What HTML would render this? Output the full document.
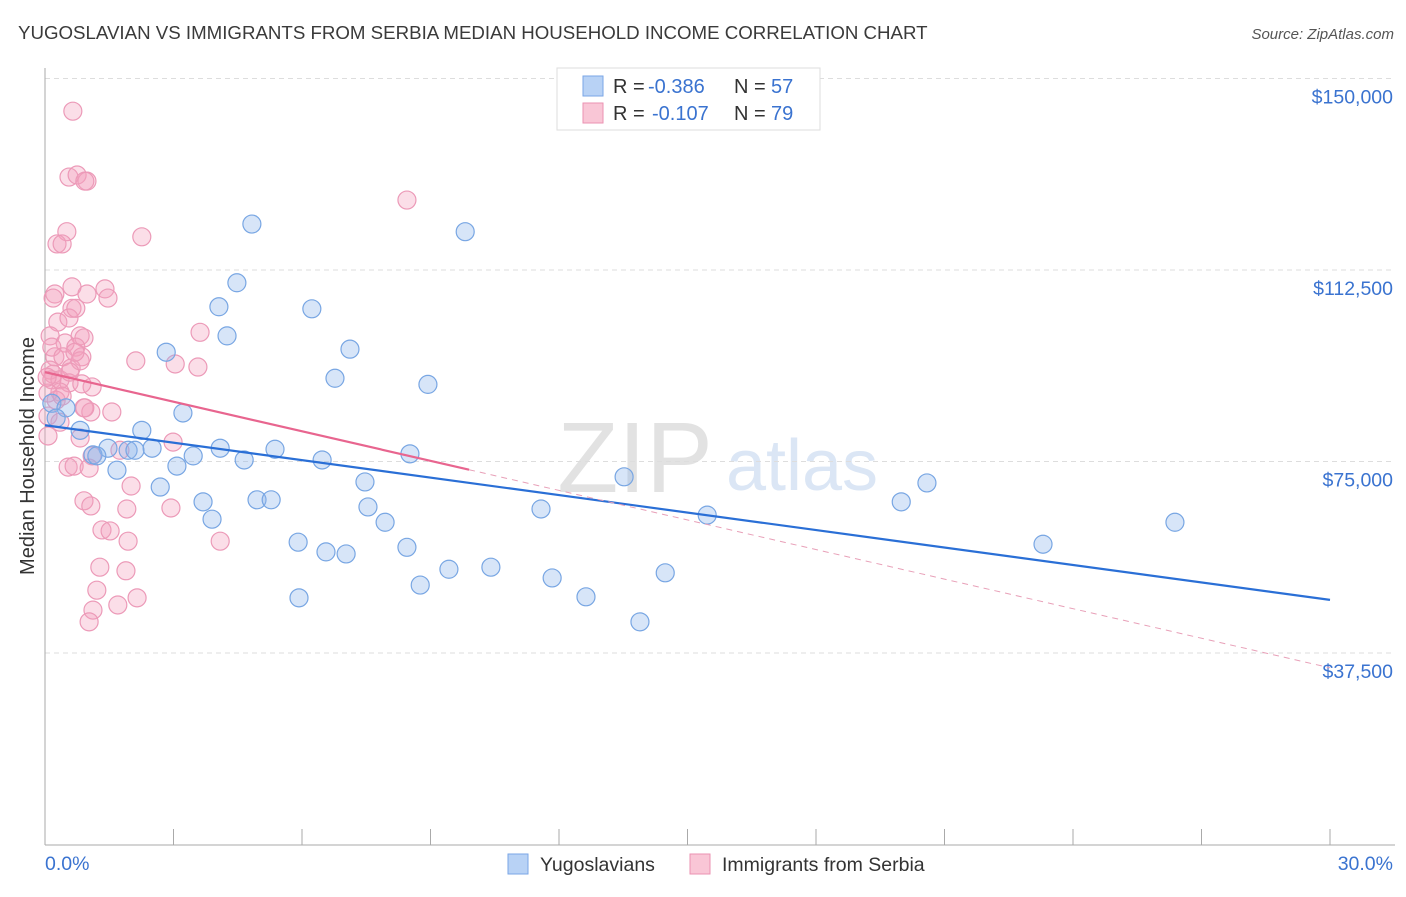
<!DOCTYPE html>
<html><head><meta charset="utf-8"><style>
body{margin:0;background:#fff;font-family:"Liberation Sans",sans-serif;}
svg text{font-family:"Liberation Sans",sans-serif;}
</style></head><body>
<svg id="chart" width="1406" height="892" xmlns="http://www.w3.org/2000/svg">
<text x="18" y="39" font-size="18.7" fill="#3a3a3a">YUGOSLAVIAN VS IMMIGRANTS FROM SERBIA MEDIAN HOUSEHOLD INCOME CORRELATION CHART</text>
<text x="1394" y="39" font-size="15" fill="#555" text-anchor="end" font-style="italic">Source: ZipAtlas.com</text>
<g>
<text x="635" y="492" font-size="100" fill="#e2e2e2" text-anchor="middle" font-family="Liberation Serif">ZIP</text>
<text x="802" y="490" font-size="72" fill="#dbe6f5" text-anchor="middle">atlas</text>
</g>
<g id="grid"></g>
<g id="axes"></g>
<g id="marks"></g>
<text transform="translate(34,456) rotate(-90)" font-size="20" fill="#333" text-anchor="middle">Median Household Income</text>
<g>
<rect x="557" y="68" width="263" height="62" fill="#fff" stroke="#ddd"/>
<rect x="583" y="76" width="20" height="20" fill="#b8d2f5" stroke="#7aa6e6"/>
<rect x="583" y="103" width="20" height="20" fill="#f9c6d6" stroke="#eb92b2"/>
<text x="613" y="93" font-size="20" fill="#333">R =</text>
<text x="648" y="93" font-size="20" fill="#3a73d0">-0.386</text>
<text x="734" y="93" font-size="20" fill="#333">N =</text>
<text x="771" y="93" font-size="20" fill="#3a73d0">57</text>
<text x="613" y="120" font-size="20" fill="#333">R =</text>
<text x="652" y="120" font-size="20" fill="#3a73d0">-0.107</text>
<text x="734" y="120" font-size="20" fill="#333">N =</text>
<text x="771" y="120" font-size="20" fill="#3a73d0">79</text>
</g>
<g>
<rect x="508" y="854" width="20" height="20" fill="#b8d2f5" stroke="#7aa6e6"/>
<text x="540" y="871" font-size="19.5" fill="#333">Yugoslavians</text>
<rect x="690" y="854" width="20" height="20" fill="#f9c6d6" stroke="#eb92b2"/>
<text x="722" y="871" font-size="19.5" fill="#333">Immigrants from Serbia</text>
</g>
</svg>
<script>
const yTicks=[37500,75000,112500,150000];
const yTickLabels=["$37,500","$75,000","$112,500","$150,000"];
const xTickVals=[0,3,6,9,12,15,18,21,24,27,30];
const blueX=[4.83,9.81,4.48,4.06,6.23,4.25,2.83,7.12,6.77,8.94,3.22,0.16,0.49,0.26,0.82,2.26,1.47,1.94,2.50,2.10,4.09,5.37,1.12,1.21,3.46,4.65,6.47,8.52,1.68,3.08,2.69,7.47,13.52,20.59,3.69,4.95,5.28,7.54,11.58,19.99,15.46,3.90,7.94,5.91,6.56,7.03,8.45,23.30,26.38,9.43,10.41,11.84,14.48,8.76,12.63,5.93,13.89];
const blueY=[121.5,120.0,110.0,105.3,104.9,99.6,96.4,97.0,91.3,90.1,84.5,86.4,85.5,83.5,81.1,81.1,77.6,77.2,77.6,77.2,77.6,77.4,76.3,76.1,76.1,75.3,75.3,76.5,73.3,74.1,70.0,71.0,72.0,70.8,67.1,67.5,67.5,66.1,65.7,67.1,64.5,63.7,63.1,59.2,57.3,56.9,58.2,58.8,63.1,53.9,54.3,52.2,53.2,50.8,48.5,48.3,43.6];
const pinkX=[0.65,0.56,0.75,0.98,8.45,2.26,0.51,0.28,0.40,0.23,0.63,1.40,0.19,0.98,1.47,0.63,0.30,0.56,0.72,3.62,0.82,0.91,0.12,0.47,0.23,0.72,0.16,0.42,0.86,2.12,3.04,3.57,0.12,0.19,0.61,0.82,0.16,0.35,0.56,1.10,0.86,0.35,0.07,0.26,0.91,1.56,1.07,0.07,0.35,0.82,2.99,0.07,1.75,1.10,0.54,0.68,1.03,2.01,0.91,1.07,1.91,2.94,1.33,1.52,1.94,4.09,1.28,1.89,1.21,2.15,1.12,1.70,1.03,0.93,0.40,0.70,0.05,0.58,0.93];
const pinkY=[143.6,130.7,131.1,129.9,126.2,119.0,120.0,117.6,117.6,107.8,109.2,108.8,107.0,107.8,107.0,105.0,102.3,103.1,105.0,100.3,99.6,99.2,99.6,98.2,95.5,97.4,97.4,95.5,95.5,94.7,94.1,93.5,92.9,92.1,93.3,94.7,91.0,91.0,90.4,89.6,90.2,88.6,88.4,87.0,85.5,84.7,84.7,83.9,82.7,79.6,78.8,80.0,77.2,76.1,73.9,74.1,73.7,70.2,67.3,66.3,65.7,65.9,61.6,61.4,59.4,59.4,54.3,53.6,49.8,48.3,45.9,46.9,43.6,85.5,87.8,96.4,91.5,92.5,129.9];
const blueTrend=[82.1,47.9];   // income (k) at 0% and 30%
const pinkTrend=[92.5,34.6];   // income (k) at 0% and 30%
const pinkSolidEnd=9.9;

const NS="http://www.w3.org/2000/svg";
const X0=45,X1=1330,Y0=844.5,PXK=191.5/37.5;
const sx=v=>X0+(X1-X0)*v/30;
const sy=k=>Y0-k*PXK;
function mk(tag,attrs,parent){const e=document.createElementNS(NS,tag);for(const k in attrs)e.setAttribute(k,attrs[k]);parent.appendChild(e);return e;}
const grid=document.getElementById('grid'),axes=document.getElementById('axes'),marks=document.getElementById('marks');
yTicks.forEach((t,i)=>{
 const l=mk('line',{x1:X0,x2:1395,y1:sy(t/1000),y2:sy(t/1000),stroke:'#ddd','stroke-dasharray':'5,4'},grid);
 
 
 const tx=mk('text',{x:1393,y:sy(t/1000)+25,'font-size':19.5,fill:'#3a73d0','text-anchor':'end'},grid);
 tx.textContent=yTickLabels[i];
 
 
});
const ax=mk('line',{x1:X0,x2:1395,y1:845,y2:845,stroke:'#aaa'},axes);


const ay=mk('line',{x1:X0,x2:X0,y1:68,y2:845,stroke:'#aaa'},axes);


xTickVals.forEach(v=>{
 const t=mk('line',{x1:sx(v),x2:sx(v),y1:829,y2:845,stroke:'#aaa'},axes);
 
 
});
const xl0=mk('text',{x:45,y:870,'font-size':19.5,fill:'#3a73d0'},axes);xl0.textContent='0.0%';


const xl1=mk('text',{x:1393,y:870,'font-size':19.5,fill:'#3a73d0','text-anchor':'end'},axes);xl1.textContent='30.0%';


pinkX.forEach((v,i)=>{
 const c=mk('circle',{cx:sx(v),cy:sy(pinkY[i]),r:9,fill:'rgba(244,160,190,0.35)',stroke:'#ec9ab8','stroke-width':1.2},marks);
 
 
});
blueX.forEach((v,i)=>{
 const c=mk('circle',{cx:sx(v),cy:sy(blueY[i]),r:9,fill:'rgba(140,180,235,0.35)',stroke:'#78a6e3','stroke-width':1.2},marks);
 
 
});
const pAt=x=>pinkTrend[0]+(pinkTrend[1]-pinkTrend[0])*x/30;
const bl=mk('line',{x1:sx(0),y1:sy(blueTrend[0]),x2:sx(30),y2:sy(blueTrend[1]),stroke:'#2a6fd6','stroke-width':2.2},marks);


const pl=mk('line',{x1:sx(0),y1:sy(pAt(0)),x2:sx(pinkSolidEnd),y2:sy(pAt(pinkSolidEnd)),stroke:'#e8658f','stroke-width':2.2},marks);


const pd=mk('line',{x1:sx(pinkSolidEnd),y1:sy(pAt(pinkSolidEnd)),x2:sx(30),y2:sy(pAt(30)),stroke:'#e8a0b8','stroke-width':1,'stroke-dasharray':'6,5'},marks);


</script>
</body></html>
